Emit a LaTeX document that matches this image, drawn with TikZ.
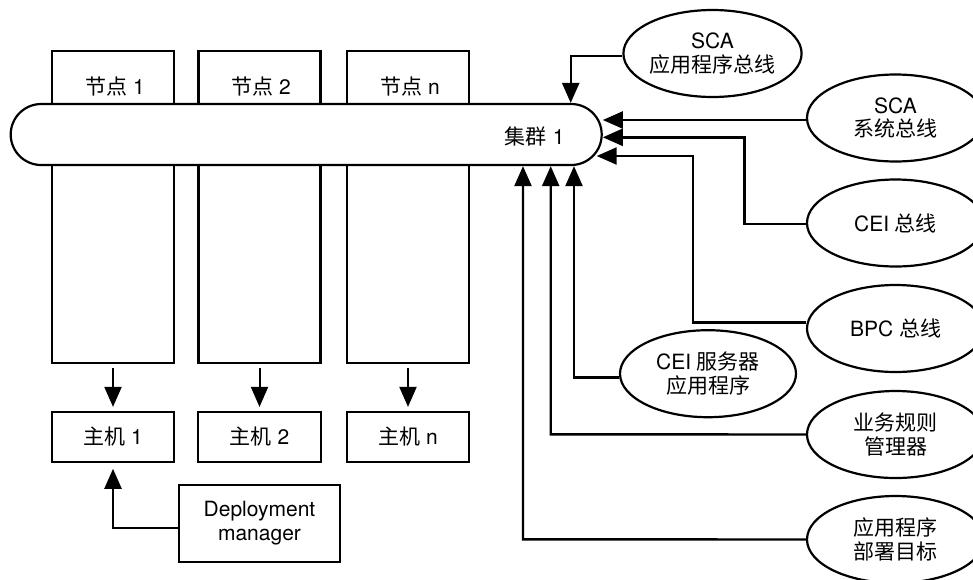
\documentclass[tikz,border=0pt]{standalone}
\usepackage{fontspec}
\setmainfont{TeX Gyre Heros}
\newfontfamily\cjk{Noto Sans CJK SC}
\newcommand\zh[1]{{\cjk #1}}
\usetikzlibrary{arrows.meta,shapes.geometric,shapes.misc}
\begin{document}
\begin{tikzpicture}[x=1pt,y=-1pt,
  every node/.style={font=\fontsize{21}{23.5}\selectfont, inner sep=0pt, align=center},
  box/.style={draw, line width=2.2pt, rectangle},
  col/.style={box, minimum width=122pt, minimum height=311.7pt},
  host/.style={box, minimum width=122.6pt, minimum height=49.4pt},
  ell/.style={draw, line width=2.2pt, ellipse, fill=white, minimum width=177pt, minimum height=87pt},
  arr/.style={line width=2.4pt, -{Triangle[length=20pt,width=17pt]}},
  harr/.style={line width=2pt, -{Triangle[length=20pt,width=17pt]}, shorten <=4.3pt, shorten >=4.3pt},
]
\useasboundingbox (0,0) rectangle (973,579);
\clip (0,0) rectangle (973,579);

% node columns
\node[col] (n1) at (113,206.85) {};
\node[col] (n2) at (259.5,206.85) {};
\node[col] (nn) at (408,206.85) {};
\node (n1t) at (115,87) {\zh{节点} 1};
\node (n2t) at (261,87) {\zh{节点} 2};
\node (nnt) at (410,87) {\zh{节点} n};

% cluster
\node[draw, line width=2.2pt, rounded rectangle, fill=white, minimum width=591pt, minimum height=61pt] (cl) at (306.2,134.5) {};
\node (clt) at (534.7,136) {\zh{集群} 1};

% hosts
\node[host] (h1) at (113,437) {\zh{主机} 1};
\node[host] (h2) at (259.5,437) {\zh{主机} 2};
\node[host] (hn) at (408,437) {\zh{主机} n};

\draw[harr] (n1.south) -- (h1.north);
\draw[harr] (n2.south) -- (h2.north);
\draw[harr] (nn.south) -- (hn.north);

% deployment manager
\node[box, minimum width=161pt, minimum height=76.7pt] (dm) at (259.5,523.3) {Deployment\\manager};
\draw[arr, shorten >=6pt] ([yshift=-4.4pt]dm.west) -| (h1.south);

% ellipses
\node[ell, minimum width=175pt] (scaapp) at (712.5,53.5) {SCA\\\zh{应用程序总线}};
\node[ell] (scasys) at (895.5,118) {SCA\\\zh{系统总线}};
\node[ell] (ceibus) at (895.5,223) {CEI \zh{总线}};
\node[ell] (bpc) at (895.5,328.5) {BPC \zh{总线}};
\node[ell, minimum width=176pt] (ceis) at (708,373.7) {CEI \zh{服务器}\\\zh{应用程序}};
\node[ell] (br) at (895.5,434.5) {\zh{业务规则}\\\zh{管理器}};
\node[ell] (adt) at (895.5,539.5) {\zh{应用程序}\\\zh{部署目标}};

% connectors to cluster
\coordinate (k1) at (570.7,56);
\draw[arr] ([yshift=-2.5pt]scaapp.west) -- (k1) -- (k1 |- cl.north);

\draw[arr] ([yshift=-2pt]scasys.west) -- ([yshift=-2pt]scasys.west -| cl.east);

\coordinate (k3) at (744.3,137.3);
\draw[arr] ([yshift=-1pt]ceibus.west) -| (k3) -- (k3 -| cl.east);

\coordinate (k4) at (692.7,156);
\coordinate (t4) at (596.7,156);
\draw[arr] ([yshift=6pt]bpc.west) -| (k4) -- (t4);

\coordinate (k5) at (574,377.3);
\draw[arr] ([yshift=-3.6pt]ceis.west) -- (k5) -- (k5 |- cl.south);

\coordinate (k6) at (550.7,434.3);
\draw[arr] (br.west) -- (k6) -- (k6 |- cl.south);

\coordinate (k7) at (523,539.3);
\draw[arr] (adt.west) -- (k7) -- (k7 |- cl.south);
\end{tikzpicture}
\end{document}
